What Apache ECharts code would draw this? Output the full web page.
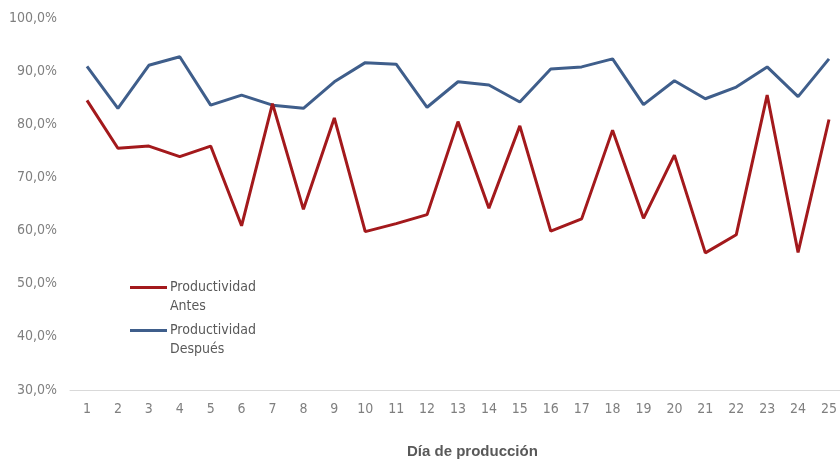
<!DOCTYPE html>
<html>
<head>
<meta charset="utf-8">
<script src="https://cdn.jsdelivr.net/npm/echarts@6/dist/echarts.min.js"></script>
<style>
  html, body { margin: 0; padding: 0; background: #ffffff; }
  #chart { width: 840px; height: 461px; }
</style>
</head>
<body>
<div id="chart"></div>
<script>
// Production days
const dias = ['1','2','3','4','5','6','7','8','9','10','11','12','13','14','15','16','17','18','19','20','21','22','23','24','25'];

// Productivity before the improvement (%)
const productividadAntes = [84.5, 75.5, 75.9, 73.9, 75.9, 60.9, 83.9, 64.0, 81.2, 59.8, 61.3, 63.0, 80.5, 64.2, 79.7, 59.9, 62.2, 78.9, 62.3, 74.2, 55.8, 59.2, 85.5, 55.9, 80.9];

// Productivity after the improvement (%)
const productividadDespues = [90.9, 83.0, 91.1, 92.7, 83.6, 85.5, 83.6, 83.0, 88.0, 91.6, 91.3, 83.2, 88.0, 87.4, 84.2, 90.4, 90.8, 92.3, 83.7, 88.2, 84.8, 87.0, 90.8, 85.2, 92.3];

const nombresSeries = ['Productividad Antes', 'Productividad Después'];
const tituloEje = 'Día de producción';

const narrow = '"DejaVu Sans Condensed", "Liberation Sans Narrow", sans-serif';

const chart = echarts.init(document.getElementById('chart'), null, { renderer: 'canvas' });

chart.setOption({
  backgroundColor: '#ffffff',
  animation: false,
  color: ['#a3191c', '#3f5e8b'],
  title: {
    text: tituloEje,
    left: 402,
    top: 439,
    textStyle: {
      fontFamily: '"Liberation Sans", Arial, sans-serif',
      fontSize: 15,
      fontWeight: 'bold',
      color: '#595959'
    }
  },
  legend: {
    orient: 'vertical',
    left: 125,
    top: 254,
    icon: 'rect',
    itemWidth: 37,
    itemHeight: 3,
    itemGap: -14,
    // leading blank line keeps the marker level with the first text line
    formatter: function (name) { return '\n' + name.replace(' ', '\n'); },
    textStyle: {
      fontFamily: narrow,
      fontSize: 14,
      lineHeight: 19,
      color: '#595959',
      padding: [0, 0, 0, -2]
    },
    data: nombresSeries
  },
  grid: [
    // plotting area: day 1 to day 25
    { left: 87, top: 18, width: 744, height: 372, containLabel: false },
    // baseline strip running under the whole plot
    { left: 70, right: 0, top: 18, height: 372, containLabel: false }
  ],
  xAxis: [
    {
      type: 'category',
      gridIndex: 0,
      boundaryGap: false,
      data: dias,
      axisLine: { show: false },
      axisTick: { show: false },
      axisLabel: {
        margin: 12,
        fontFamily: narrow,
        fontSize: 14,
        color: '#7f7f7f',
        interval: 0
      },
      splitLine: { show: false }
    },
    {
      type: 'category',
      gridIndex: 1,
      data: [''],
      axisLine: { lineStyle: { color: '#d9d9d9', width: 1 } },
      axisTick: { show: false },
      axisLabel: { show: false },
      splitLine: { show: false }
    }
  ],
  yAxis: [
    {
      type: 'value',
      gridIndex: 0,
      min: 30,
      max: 100,
      interval: 10,
      axisLine: { show: false },
      axisTick: { show: false },
      splitLine: { show: false },
      axisLabel: {
        margin: 30,
        fontFamily: narrow,
        fontSize: 14,
        color: '#7f7f7f',
        formatter: function (v) { return v.toFixed(1).replace('.', ',') + '%'; }
      }
    },
    {
      type: 'value',
      gridIndex: 1,
      min: 30,
      max: 100,
      show: false
    }
  ],
  series: [
    {
      name: nombresSeries[0],
      type: 'line',
      xAxisIndex: 0,
      yAxisIndex: 0,
      data: productividadAntes,
      showSymbol: false,
      symbol: 'none',
      lineStyle: { width: 3, color: '#a3191c' },
      itemStyle: { color: '#a3191c' },
      z: 3
    },
    {
      name: nombresSeries[1],
      type: 'line',
      xAxisIndex: 0,
      yAxisIndex: 0,
      data: productividadDespues,
      showSymbol: false,
      symbol: 'none',
      lineStyle: { width: 3, color: '#3f5e8b' },
      itemStyle: { color: '#3f5e8b' },
      z: 2
    }
  ]
});
</script>
</body>
</html>
